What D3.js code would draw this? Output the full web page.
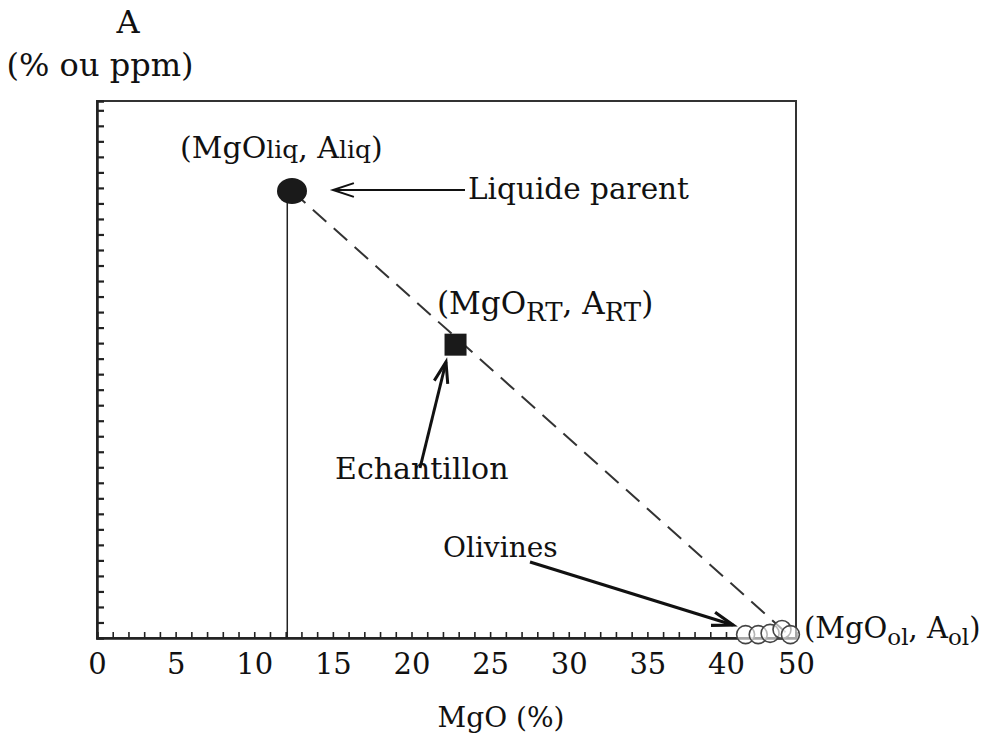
<!DOCTYPE html>
<html><head><meta charset="utf-8">
<script src="https://cdn.jsdelivr.net/npm/d3@7"></script>
<style>body{margin:0;background:#fff}svg{display:block}</style>
</head><body><svg id="c" width="1000" height="750"></svg>
<script>
// ---- data ----
const xTickLabels = [0,5,10,15,20,25,30,35,40,50];
const xMinorTicks = d3.range(1,41);
const yMinorTicks = d3.range(1,35);
const liquid = {mgo:12.4, a:28.8};
const liquidStemX = 12.1;
const sample = {mgo:22.8, a:18.9};
const olivineMgO = [42.8, 44.6, 46.3, 48.0, 49.2];
const olivineA   = [0.22, 0.22, 0.3, 0.55, 0.22];
const mixEnd = {mgo:49.2, a:0.1};

const FONT = "'DejaVu Serif', serif";
const svg = d3.select("#c");
const x = d3.scaleLinear().domain([0,40,50]).range([97,726,796]);
const y = d3.scaleLinear().domain([0,34.6]).range([638,101]);

// frame
svg.append("rect").attr("x",x(0)).attr("y",y(34.6)).attr("width",x(50)-x(0)).attr("height",y(0)-y(34.6))
  .attr("fill","none").attr("stroke","#333").attr("stroke-width",2);

// bottom ticks (inward)
const gx = svg.append("g").attr("transform",`translate(0,${y(0)})`)
  .call(d3.axisBottom(x).tickValues(xMinorTicks).tickSize(-6).tickFormat(""));
gx.select(".domain").attr("stroke","#222").attr("stroke-width",2.5);
gx.selectAll(".tick line").attr("stroke","#222").attr("stroke-width",1.6);
// bottom labels
const gl = svg.append("g").attr("transform",`translate(0,${y(0)})`)
  .call(d3.axisBottom(x).tickValues(xTickLabels).tickSize(0).tickPadding(15).tickFormat(d3.format("d")));
gl.select(".domain").remove();
gl.attr("font-family",null).attr("font-size",null);
gl.selectAll("text").style("font-family",FONT).style("font-size","29px").attr("fill","#111");

// left ticks (inward)
const gy = svg.append("g").attr("transform",`translate(${x(0)},0)`)
  .call(d3.axisLeft(y).tickValues(yMinorTicks).tickSize(-7).tickFormat(""));
gy.select(".domain").attr("stroke","#222").attr("stroke-width",2.5);
gy.selectAll(".tick line").attr("stroke","#222").attr("stroke-width",2.2);

// mixing line (dashed)
svg.append("line").attr("x1",x(liquid.mgo)).attr("y1",y(liquid.a)).attr("x2",x(mixEnd.mgo)).attr("y2",y(mixEnd.a))
  .attr("stroke","#333").attr("stroke-width",2).attr("stroke-dasharray","18,10");
// stem
svg.append("line").attr("x1",x(liquidStemX)).attr("x2",x(liquidStemX)).attr("y1",y(liquid.a)).attr("y2",y(0))
  .attr("stroke","#222").attr("stroke-width",1.5);

// olivines
svg.append("g").selectAll("circle").data(olivineMgO).join("circle")
  .attr("cx",d=>x(d)).attr("cy",(d,i)=>y(olivineA[i])).attr("r",9)
  .attr("fill","#fff").attr("fill-opacity",0.6).attr("stroke","#444").attr("stroke-width",1.6);

// liquid point
svg.append("ellipse").attr("cx",x(liquid.mgo)).attr("cy",y(liquid.a)).attr("rx",15).attr("ry",13).attr("fill","#1a1a1a");
// sample
svg.append("rect").attr("x",x(sample.mgo)-11).attr("y",y(sample.a)-11).attr("width",22).attr("height",22).attr("fill","#1a1a1a");

// arrows
function arrow(x1,y1,x2,y2,w){
  svg.append("line").attr("x1",x1).attr("y1",y1).attr("x2",x2).attr("y2",y2).attr("stroke","#111").attr("stroke-width",w);
  const a=Math.atan2(y2-y1,x2-x1), L=22, s=0.32;
  const p=(ang)=>[x2-L*Math.cos(a+ang), y2-L*Math.sin(a+ang)];
  const [ax,ay]=p(s),[bx,by]=p(-s);
  svg.append("path").attr("d",`M${ax},${ay}L${x2},${y2}L${bx},${by}`).attr("fill","none").attr("stroke","#111").attr("stroke-width",w);
}
arrow(465,190,333,190,2);
arrow(420,468,446,362,3);
arrow(530,562,733,625,3.2);

// labels
const fs=29;
function lab(xx,yy,parts,size){
  const t=svg.append("text").attr("x",xx).attr("y",yy).style("font-family",FONT).style("font-size",(size||fs)+"px").attr("fill","#111");
  parts.forEach(p=>{const s=t.append("tspan").text(p[0]); if(p[1]) s.style("font-size",p[1]+"px"); if(p[2]) s.attr("dy",p[2]);});
  return t;
}
lab(180,158,[["(MgO"],["liq",25],[", A"],["liq",25],[")"]],30);
lab(468,199,[["Liquide parent"]],29.5);
lab(437,314,[["(MgO"],["RT",26,7],[", A",null,-7],["RT",26,7],[")",null,-7]],31);
lab(335,479,[["Echantillon"]],30);
lab(443,557,[["Olivines"]],28);
lab(804,638,[["(MgO"],["ol",23,7],[", A",null,-7],["ol",23,7],[")",null,-7]],29);
lab(128,33,[["A"]],32).attr("text-anchor","middle");
lab(100,76,[["(% ou ppm)"]],32).attr("text-anchor","middle");
lab(501,727,[["MgO (%)"]],28).attr("text-anchor","middle");
</script></body></html>
